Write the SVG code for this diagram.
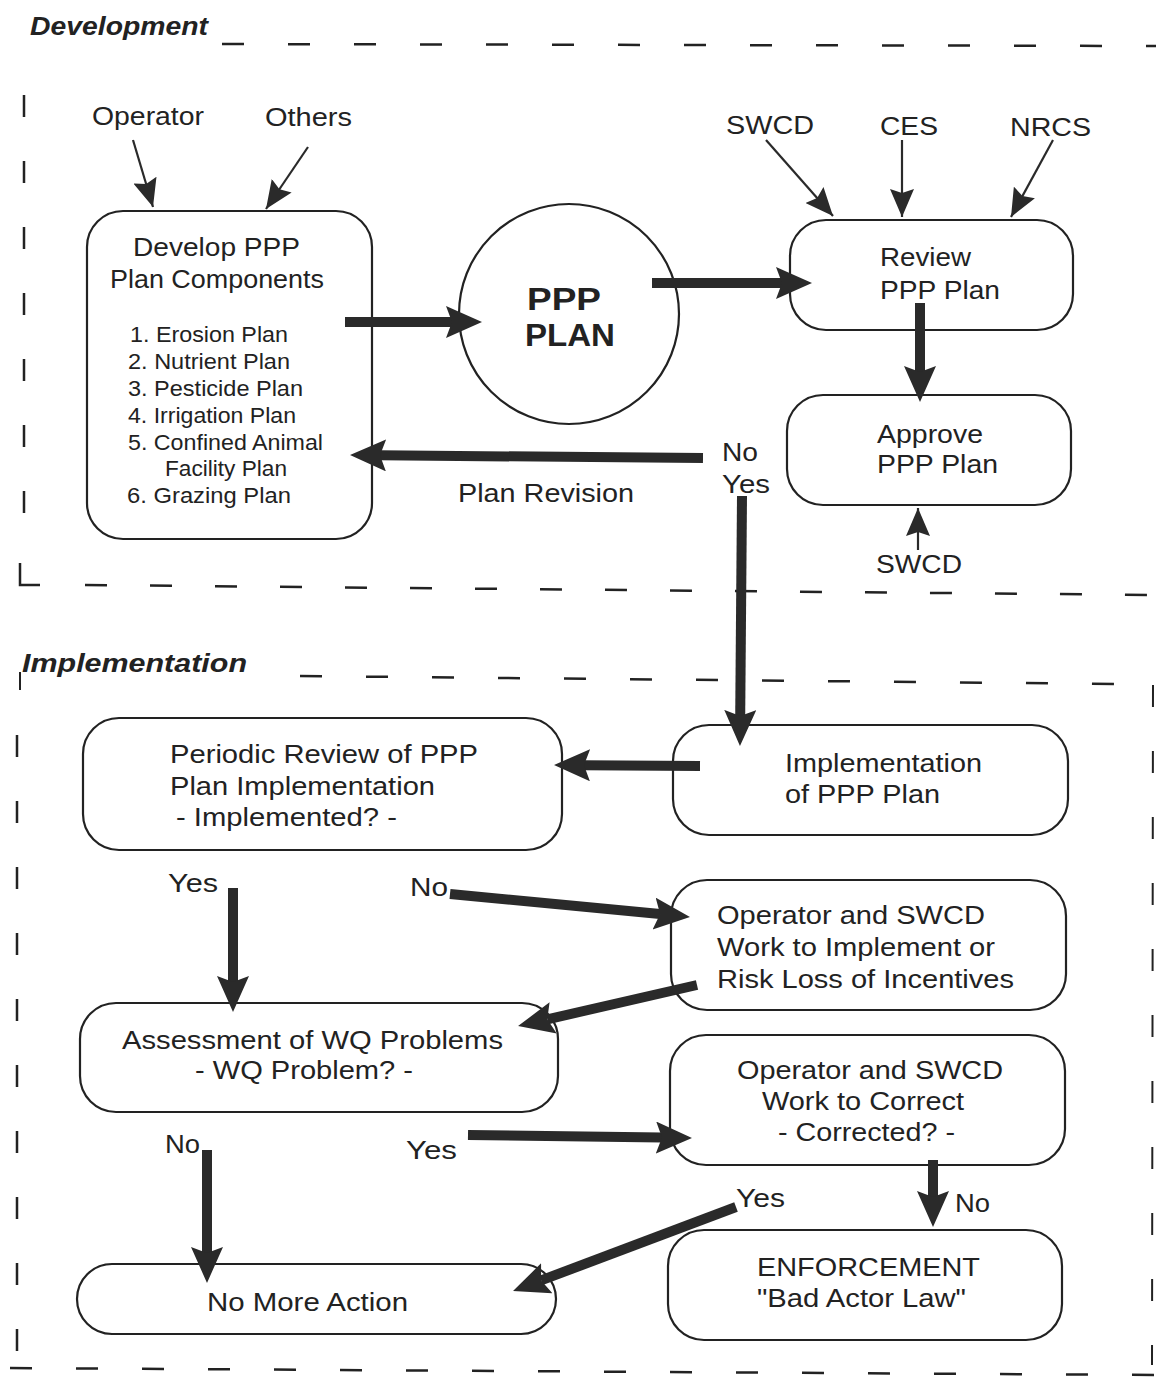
<svg xmlns="http://www.w3.org/2000/svg" width="1156" height="1385" viewBox="0 0 1156 1385">
<defs>
<marker id="big" markerUnits="userSpaceOnUse" markerWidth="40" markerHeight="34" refX="6" refY="16" orient="auto">
<path d="M0,0 L36,16 L0,32 L6,16 Z" fill="#2a2a2a"/>
</marker>
<marker id="small" markerUnits="userSpaceOnUse" markerWidth="30" markerHeight="24" refX="28" refY="12" orient="auto">
<path d="M0,0 L28,12 L0,24 L4,12 Z" fill="#2a2a2a"/>
</marker>
</defs>
<style>
text{font-family:"Liberation Sans",Arial,sans-serif;fill:#222;}
.t{font-size:26px;}
.l{font-size:22px;}
.c{text-anchor:middle;}
.h{font-size:26px;font-weight:bold;font-style:italic;}
.box{fill:#fff;stroke:#222;stroke-width:2.2;}
.dash{fill:none;stroke:#222;stroke-width:2.5;stroke-dasharray:22 44;}
.thick{fill:none;stroke:#2a2a2a;stroke-width:10;marker-end:url(#big);}
.thin{fill:none;stroke:#2a2a2a;stroke-width:2.2;marker-end:url(#small);}
</style>
<rect width="1156" height="1385" fill="#fff"/>

<g id="frames">
<text class="h" x="30" y="35" textLength="178" lengthAdjust="spacingAndGlyphs">Development</text>
<line class="dash" x1="222" y1="44" x2="1156" y2="46"/>
<line class="dash" x1="24" y1="95" x2="24" y2="530"/>
<path d="M20,563 L20,585 L40,585" fill="none" stroke="#222" stroke-width="2.5"/>
<line class="dash" x1="85" y1="585" x2="1156" y2="595" style="stroke-dasharray:22 43"/>
<text class="h" x="22" y="672" textLength="225" lengthAdjust="spacingAndGlyphs">Implementation</text>
<line x1="20" y1="672" x2="20" y2="690" stroke="#222" stroke-width="2"/>
<line class="dash" x1="300" y1="676" x2="1120" y2="684"/>
<line class="dash" x1="17" y1="735" x2="17" y2="1355"/>
<line class="dash" x1="10" y1="1368" x2="1156" y2="1375"/>
<line class="dash" x1="1153" y1="685" x2="1152" y2="1365" style="stroke-width:2"/>
</g>

<g id="operator"><text class="t" x="92" y="125" textLength="112" lengthAdjust="spacingAndGlyphs">Operator</text></g>
<g id="others"><text class="t" x="265" y="126" textLength="87" lengthAdjust="spacingAndGlyphs">Others</text></g>
<g id="swcd1"><text class="t" x="726" y="134" textLength="88" lengthAdjust="spacingAndGlyphs">SWCD</text></g>
<g id="ces"><text class="t" x="880" y="135" textLength="58" lengthAdjust="spacingAndGlyphs">CES</text></g>
<g id="nrcs"><text class="t" x="1010" y="136" textLength="81" lengthAdjust="spacingAndGlyphs">NRCS</text></g>
<g id="swcd2"><text class="t" x="876" y="573" textLength="86" lengthAdjust="spacingAndGlyphs">SWCD</text></g>

<g id="develop">
<rect class="box" x="87" y="211" width="285" height="328" rx="36"/>
<text class="t" x="133" y="256" textLength="167" lengthAdjust="spacingAndGlyphs">Develop PPP</text>
<text class="t" x="110" y="288" textLength="214" lengthAdjust="spacingAndGlyphs">Plan Components</text>
<text class="l" x="130" y="342" textLength="158" lengthAdjust="spacingAndGlyphs">1.  Erosion Plan</text>
<text class="l" x="128" y="369" textLength="162" lengthAdjust="spacingAndGlyphs">2.  Nutrient Plan</text>
<text class="l" x="128" y="396" textLength="175" lengthAdjust="spacingAndGlyphs">3.  Pesticide Plan</text>
<text class="l" x="128" y="423" textLength="168" lengthAdjust="spacingAndGlyphs">4.  Irrigation Plan</text>
<text class="l" x="128" y="450" textLength="195" lengthAdjust="spacingAndGlyphs">5.  Confined Animal</text>
<text class="l" x="165" y="476" textLength="122" lengthAdjust="spacingAndGlyphs">Facility Plan</text>
<text class="l" x="127" y="503" textLength="164" lengthAdjust="spacingAndGlyphs">6.  Grazing Plan</text>
</g>

<g id="pppplan">
<circle cx="569" cy="314" r="110" fill="#fff" stroke="#222" stroke-width="2.2"/>
<text x="527" y="310" textLength="74" lengthAdjust="spacingAndGlyphs" style="font-size:32px;font-weight:bold">PPP</text>
<text x="525" y="346" textLength="90" lengthAdjust="spacingAndGlyphs" style="font-size:32px;font-weight:bold">PLAN</text>
</g>

<g id="review">
<rect class="box" x="790" y="220" width="283" height="110" rx="36"/>
<text class="t" x="880" y="266" textLength="91" lengthAdjust="spacingAndGlyphs">Review</text>
<text class="t" x="880" y="299" textLength="120" lengthAdjust="spacingAndGlyphs">PPP Plan</text>
</g>

<g id="approve">
<rect class="box" x="787" y="395" width="284" height="110" rx="36"/>
<text class="t" x="877" y="443" textLength="106" lengthAdjust="spacingAndGlyphs">Approve</text>
<text class="t" x="877" y="473" textLength="121" lengthAdjust="spacingAndGlyphs">PPP Plan</text>
</g>

<g id="periodic">
<rect class="box" x="83" y="718" width="479" height="132" rx="36"/>
<text class="t" x="170" y="763" textLength="308" lengthAdjust="spacingAndGlyphs">Periodic Review of PPP</text>
<text class="t" x="170" y="795" textLength="265" lengthAdjust="spacingAndGlyphs">Plan Implementation</text>
<text class="t" x="176" y="826" textLength="221" lengthAdjust="spacingAndGlyphs">- Implemented? -</text>
</g>

<g id="implementation">
<rect class="box" x="673" y="725" width="395" height="110" rx="36"/>
<text class="t" x="785" y="772" textLength="197" lengthAdjust="spacingAndGlyphs">Implementation</text>
<text class="t" x="785" y="803" textLength="155" lengthAdjust="spacingAndGlyphs">of PPP Plan</text>
</g>

<g id="workimplement">
<rect class="box" x="671" y="880" width="395" height="130" rx="36"/>
<text class="t" x="717" y="924" textLength="268" lengthAdjust="spacingAndGlyphs">Operator and SWCD</text>
<text class="t" x="717" y="956" textLength="278" lengthAdjust="spacingAndGlyphs">Work to Implement or</text>
<text class="t" x="717" y="988" textLength="297" lengthAdjust="spacingAndGlyphs">Risk Loss of Incentives</text>
</g>

<g id="assessment">
<rect class="box" x="80" y="1003" width="478" height="109" rx="36"/>
<text class="t" x="122" y="1049" textLength="381" lengthAdjust="spacingAndGlyphs">Assessment of WQ Problems</text>
<text class="t" x="195" y="1079" textLength="218" lengthAdjust="spacingAndGlyphs">- WQ Problem? -</text>
</g>

<g id="workcorrect">
<rect class="box" x="670" y="1035" width="395" height="130" rx="36"/>
<text class="t" x="737" y="1079" textLength="266" lengthAdjust="spacingAndGlyphs">Operator and SWCD</text>
<text class="t" x="762" y="1110" textLength="202" lengthAdjust="spacingAndGlyphs">Work to Correct</text>
<text class="t" x="778" y="1141" textLength="177" lengthAdjust="spacingAndGlyphs">- Corrected? -</text>
</g>

<g id="nomore">
<rect class="box" x="77" y="1264" width="479" height="70" rx="35"/>
<text class="t" x="207" y="1311" textLength="201" lengthAdjust="spacingAndGlyphs">No More Action</text>
</g>

<g id="enforcement">
<rect class="box" x="668" y="1230" width="394" height="110" rx="36"/>
<text class="t" x="757" y="1276" textLength="223" lengthAdjust="spacingAndGlyphs">ENFORCEMENT</text>
<text class="t" x="757" y="1307" textLength="209" lengthAdjust="spacingAndGlyphs">"Bad Actor Law"</text>
</g>

<g id="labels">
<text class="t" x="458" y="502" textLength="176" lengthAdjust="spacingAndGlyphs">Plan Revision</text>
<text class="t" x="722" y="461" textLength="36" lengthAdjust="spacingAndGlyphs">No</text>
<text class="t" x="722" y="493" textLength="48" lengthAdjust="spacingAndGlyphs">Yes</text>
<text class="t" x="168" y="892" textLength="50" lengthAdjust="spacingAndGlyphs">Yes</text>
<text class="t" x="410" y="896" textLength="38" lengthAdjust="spacingAndGlyphs">No</text>
<text class="t" x="165" y="1153" textLength="35" lengthAdjust="spacingAndGlyphs">No</text>
<text class="t" x="406" y="1159" textLength="51" lengthAdjust="spacingAndGlyphs">Yes</text>
<text class="t" x="736" y="1207" textLength="49" lengthAdjust="spacingAndGlyphs">Yes</text>
<text class="t" x="955" y="1212" textLength="35" lengthAdjust="spacingAndGlyphs">No</text>
</g>

<g id="connectors">
<line class="thin" x1="133" y1="140" x2="153" y2="207"/>
<line class="thin" x1="308" y1="147" x2="266" y2="209"/>
<line class="thin" x1="766" y1="140" x2="833" y2="216"/>
<line class="thin" x1="902" y1="140" x2="902" y2="217"/>
<line class="thin" x1="1053" y1="140" x2="1011" y2="217"/>
<line class="thin" x1="918" y1="550" x2="918" y2="508"/>
<line class="thick" x1="345" y1="322" x2="452" y2="322"/>
<line class="thick" x1="652" y1="283" x2="782" y2="283"/>
<line class="thick" x1="920" y1="303" x2="920" y2="372"/>
<line class="thick" x1="703" y1="458" x2="380" y2="455.3"/>
<line class="thick" x1="742" y1="496" x2="740.2" y2="716"/>
<line class="thick" x1="700" y1="766" x2="584" y2="765.2"/>
<line class="thick" x1="450" y1="894" x2="660.1" y2="914.1"/>
<line class="thick" x1="233" y1="888" x2="233" y2="982"/>
<line class="thick" x1="697" y1="985" x2="547.3" y2="1019.3"/>
<line class="thick" x1="468" y1="1135" x2="662" y2="1137.6"/>
<line class="thick" x1="207" y1="1150" x2="207" y2="1253"/>
<line class="thick" x1="933" y1="1160" x2="933" y2="1197"/>
<line class="thick" x1="736" y1="1207" x2="541.1" y2="1280.4"/>
</g>
</svg>
